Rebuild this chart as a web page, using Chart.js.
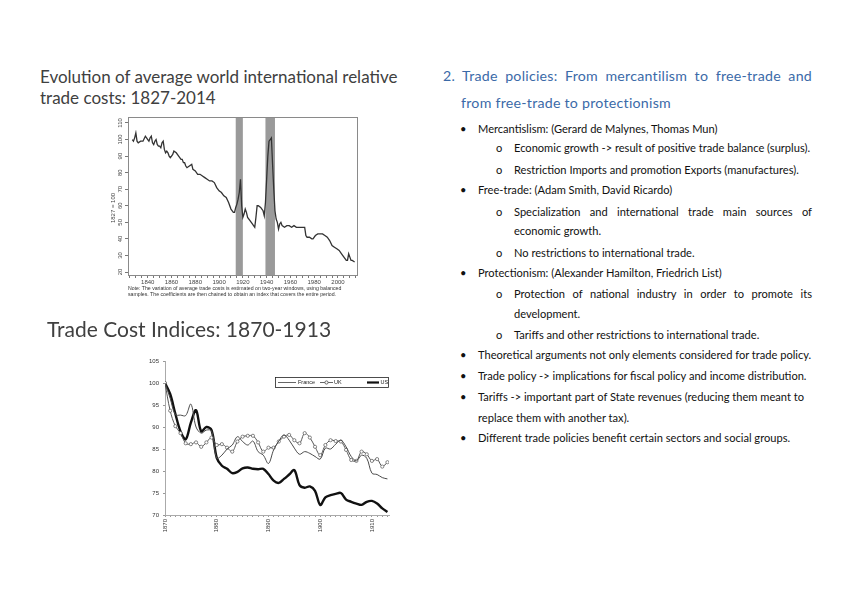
<!DOCTYPE html>
<html><head><meta charset="utf-8">
<script src="https://cdn.jsdelivr.net/npm/chart.js@4.4.1/dist/chart.umd.min.js"></script>
<style>
html,body{margin:0;padding:0;background:#fff;}
body{width:848px;height:599px;overflow:hidden;position:relative;font-family:Lato,"Open Sans",sans-serif;}
.t{position:absolute;white-space:nowrap;line-height:14px;}
.ttl{color:#404040;font-size:17px;line-height:21px;}
.hd{color:#3b6aa8;font-size:14.2px;line-height:20px;letter-spacing:0.25px;}
.b{font-size:11.1px;color:#111;}
.j{text-align:justify;text-align-last:justify;white-space:normal;}
.note{position:absolute;font-family:"Liberation Sans",Arial,sans-serif;font-size:5.2px;line-height:6px;color:#333;white-space:nowrap;}
canvas{position:absolute;}
</style></head>
<body>
<div class="t ttl" style="left:40px;top:66px;">Evolution of average world international relative</div>
<div class="t ttl" style="left:40px;top:87px;">trade costs: 1827-2014</div>
<canvas id="c1" width="270" height="200" style="left:100px;top:105px;width:270px;height:200px;"></canvas>
<div class="note" style="left:128px;top:285px;">Note: The variation of average trade costs is estimated on two-year windows, using balanced<br>samples. The coefficients are then chained to obtain an index that covers the entire period.</div>
<div class="t ttl" style="left:47px;top:316px;font-size:21px;line-height:25px;">Trade Cost Indices: 1870-1913</div>
<canvas id="c2" width="272" height="190" style="left:130px;top:352px;width:272px;height:190px;"></canvas>

<div class="t hd j" style="left:443px;top:66px;width:369px;">2. Trade policies: From mercantilism to free-trade and</div>
<div class="t hd" style="left:461px;top:93px;">from free-trade to protectionism</div>

<div id="txt"></div>

<script>
// ---------- Chart 1 data: average world relative trade costs (1827 = 100) ----------
const topYears = [1827,1828,1829,1830,1831,1832,1834,1836,1838,1839,1840,1841,1842,1843,1844,1845,1846,1847,1848,1849,1850,1851,1852,1853,1854,1855,1856,1857,1858,1859,1860,1861,1862,1864,1866,1868,1869,1870,1871,1872,1873,1875,1877,1878,1880,1882,1884,1886,1888,1890,1892,1894,1896,1898,1900,1902,1904,1906,1908,1910,1912,1913,1914,1915,1916,1917,1918,1919,1920,1921,1922,1923,1924,1926,1928,1929,1930,1931,1932,1933,1935,1936,1937,1938,1939,1940,1941,1942,1943,1944,1945,1946,1947,1948,1949,1950,1951,1952,1953,1955,1957,1959,1961,1963,1965,1967,1969,1971,1972,1973,1974,1976,1978,1979,1981,1983,1985,1987,1989,1991,1993,1995,1997,1999,2001,2003,2005,2007,2008,2009,2010,2011,2012,2014];
const topIndex = [100,99,101,104,99,98,99,99,102,101,100,99,101,102,98,97,99,100,97,96,96,95,98,99,94,92,93,92,90,89,90,91,93,92,90,88,88,86,86,84,83,84,85,82,81,79,79,78,77,76,75,75,74,71,69,68,66,65,62,58,56,56,59,61,64,68,76,60,53,55,58,56,53,51,49,48,47,53,60,60,59,58,57,54,62,76,90,99,100,101,85,70,57,52,50,46,49,50,48,47,48,48,47,48,47,47,47,47,47,42,41,41,40,40,42,43,43,43,42,41,39,36,35,34,33,31,29,27,27,31,29,27,27,26];
const warStart = [1914, 1939];
const warEnd = [1920, 1947];
const topYTicks = [20,30,40,50,60,70,80,90,100,110];
const topXLabels = [1840,1860,1880,1900,1920,1940,1960,1980,2000];
const topXMinor = [1825,1830,1835,1840,1845,1850,1855,1860,1865,1870,1875,1880,1885,1890,1895,1900,1905,1910,1915,1920,1925,1930,1935,1940,1945,1950,1955,1960,1965,1970,1975,1980,1985,1990,1995,2000,2005,2010,2015];
const topYTitle = "1827 = 100";

// ---------- Chart 2 data: trade cost indices 1870-1913 ----------
const tcYears = [1870,1871,1872,1873,1874,1875,1876,1877,1878,1879,1880,1881,1882,1883,1884,1885,1886,1887,1888,1889,1890,1891,1892,1893,1894,1895,1896,1897,1898,1899,1900,1901,1902,1903,1904,1905,1906,1907,1908,1909,1910,1911,1912,1913];
const franceTC = [100,96.5,92.8,92.7,92.6,95.2,90,88.6,89.3,89.1,82.9,83.6,85,85.9,87.8,86.7,85.9,86.8,84.4,83.6,81.7,84.8,86.8,88.2,87,85.2,83.8,84.4,84,83.3,82.7,85.2,85,86.1,87,85.5,83.3,82.3,83.6,82.9,79.5,79.2,78.5,78.2];
const ukTC = [100,93.7,90.2,88.6,86.3,86.1,86.5,85.5,86.5,87.6,85.9,86.1,85.3,84.4,86.7,87.8,88,88,86.5,84.4,85.3,85.3,86.7,87.8,88.2,87,86.3,88.6,87.6,85.5,83.6,85.9,87,86.8,86.7,84.8,82.5,82.3,84.4,83.8,82.3,82.7,81,82];
const usTC = [100,97.5,93,89,87.2,91,93.8,89,90,89.3,83,81.2,80.5,79.5,79.8,80.6,80.8,80.5,80.4,80.5,79.3,77.8,77.3,78.2,79.2,80.2,76.8,76.2,76.5,75.5,72.3,74,74.5,74.8,75,73.5,73,72.6,72.3,73,73.2,72.6,71.5,70.7];
const tcYTicks = [70,75,80,85,90,95,100,105];
const tcSeriesNames = ["France","UK","US"];

// ---------- right-hand text ----------
const lines = [
 {y:129,lvl:1,t:"Mercantislism: (Gerard de Malynes, Thomas Mun)"},
 {y:148,lvl:2,t:"Economic growth -> result of positive trade balance (surplus)."},
 {y:170,lvl:2,t:"Restriction Imports and promotion Exports (manufactures)."},
 {y:190,lvl:1,t:"Free-trade: (Adam Smith, David Ricardo)"},
 {y:212,lvl:2,t:"Specialization and international trade main sources of",j:true},
 {y:231,lvl:3,t:"economic growth."},
 {y:253,lvl:2,t:"No restrictions to international trade."},
 {y:273,lvl:1,t:"Protectionism: (Alexander Hamilton, Friedrich List)"},
 {y:294,lvl:2,t:"Protection of national industry in order to promote its",j:true},
 {y:314,lvl:3,t:"development."},
 {y:335,lvl:2,t:"Tariffs and other restrictions to international trade."},
 {y:355,lvl:1,t:"Theoretical arguments not only elements considered for trade policy."},
 {y:376,lvl:1,t:"Trade policy -> implications for fiscal policy and income distribution."},
 {y:397,lvl:1,t:"Tariffs -> important part of State revenues (reducing them meant to"},
 {y:418,lvl:0,t:"replace them with another tax)."},
 {y:438,lvl:1,t:"Different trade policies benefit certain sectors and social groups."}
];
const txt = document.getElementById('txt');
lines.forEach(l=>{
  const top = l.y - 7;
  if (l.lvl===1){
    txt.insertAdjacentHTML('beforeend',`<div class="t b" style="left:460px;top:${top}px;">•</div>`);
  }
  if (l.lvl===2){
    txt.insertAdjacentHTML('beforeend',`<div class="t b" style="left:496px;top:${top}px;">o</div>`);
  }
  const left = (l.lvl===1||l.lvl===0)?478:514;
  const cls = l.j ? 't b j' : 't b';
  const w = l.j ? `width:${812-left}px;` : '';
  const d = document.createElement('div');
  d.className = cls; d.style.cssText = `left:${left}px;top:${top}px;${w}`;
  d.textContent = l.t;
  txt.appendChild(d);
});

// ---------- Chart 1 ----------
const topDeco = {
  id:'topDeco',
  beforeDatasetsDraw(chart){
    const {ctx, chartArea:a, scales:{x}} = chart;
    ctx.save(); ctx.fillStyle='#9a9a9a';
    warStart.forEach((s,i)=>{
      const x1=x.getPixelForValue(s), x2=x.getPixelForValue(warEnd[i]);
      ctx.fillRect(x1,a.top,x2-x1,a.bottom-a.top);
    });
    ctx.restore();
  },
  afterDraw(chart){
    const {ctx, chartArea:a, scales:{x,y}} = chart;
    ctx.save();
    ctx.strokeStyle='#8a8a8a'; ctx.lineWidth=1;
    ctx.strokeRect(Math.round(a.left)+0.5, Math.round(a.top)+0.5, Math.round(a.right-a.left), Math.round(a.bottom-a.top));
    ctx.fillStyle='#444'; ctx.font='6px "Liberation Sans", Arial, sans-serif';
    ctx.textAlign='center'; ctx.textBaseline='middle';
    topXLabels.forEach(v=>{ ctx.fillText(String(v), x.getPixelForValue(v), a.bottom+7); });
    topYTicks.forEach(v=>{
      ctx.save(); ctx.translate(a.left-8, y.getPixelForValue(v)); ctx.rotate(-Math.PI/2);
      ctx.fillText(String(v),0,0); ctx.restore();
    });
    ctx.save(); ctx.translate(a.left-15,(a.top+a.bottom)/2+12); ctx.rotate(-Math.PI/2);
    ctx.fillText(topYTitle,0,0); ctx.restore();
    ctx.restore();
  }
};
new Chart(document.getElementById('c1'),{
  type:'line',
  data:{datasets:[{data:topYears.map((v,i)=>({x:v,y:topIndex[i]})),borderColor:'#333',borderWidth:1.3,pointRadius:0,tension:0}]},
  options:{responsive:false,animation:false,events:[],
    layout:{padding:{top:12,right:13,left:0,bottom:0}},
    plugins:{legend:{display:false},tooltip:{enabled:false}},
    scales:{
      x:{type:'linear',min:1823.4,max:2016,
        afterBuildTicks:s=>{s.ticks=topXMinor.map(v=>({value:v}));},
        ticks:{display:false},grid:{drawOnChartArea:false,drawTicks:true,tickLength:3,color:'#777'},border:{display:false},
        afterFit:s=>{s.height=30;}},
      y:{type:'linear',min:18.2,max:113.6,
        afterBuildTicks:s=>{s.ticks=topYTicks.map(v=>({value:v}));},
        ticks:{display:false},grid:{drawOnChartArea:false,drawTicks:true,tickLength:3,color:'#777'},border:{display:false},
        afterFit:s=>{s.width=28;}}
    }
  },
  plugins:[topDeco]
});

// ---------- Chart 2 ----------
const legendDeco = {
  id:'legendDeco',
  afterDraw(chart){
    const ctx=chart.ctx;
    ctx.save();
    ctx.strokeStyle='#222'; ctx.lineWidth=0.8;
    ctx.strokeRect(145.5,25.5,113,10);
    const yy=30.5;
    ctx.font='5.5px "Liberation Sans", Arial, sans-serif'; ctx.fillStyle='#222'; ctx.textBaseline='middle'; ctx.textAlign='left';
    // France
    ctx.strokeStyle='#555'; ctx.lineWidth=0.9; ctx.beginPath(); ctx.moveTo(148,yy); ctx.lineTo(166,yy); ctx.stroke();
    ctx.fillText(tcSeriesNames[0],168,yy);
    // UK
    ctx.strokeStyle='#555'; ctx.beginPath(); ctx.moveTo(190,yy); ctx.lineTo(203,yy); ctx.stroke();
    ctx.beginPath(); ctx.arc(196.5,yy,1.6,0,Math.PI*2); ctx.fillStyle='#fff'; ctx.fill(); ctx.stroke();
    ctx.fillStyle='#222'; ctx.fillText(tcSeriesNames[1],204,yy);
    // US
    ctx.strokeStyle='#111'; ctx.lineWidth=2.2; ctx.beginPath(); ctx.moveTo(237,yy); ctx.lineTo(249,yy); ctx.stroke();
    ctx.fillText(tcSeriesNames[2],250.5,yy);
    ctx.restore();
  }
};
new Chart(document.getElementById('c2'),{
  type:'line',
  data:{datasets:[
    {label:tcSeriesNames[0],data:tcYears.map((v,i)=>({x:v,y:franceTC[i]})),borderColor:'#4a4a4a',borderWidth:1,pointRadius:0,tension:0.35},
    {label:tcSeriesNames[1],data:tcYears.map((v,i)=>({x:v,y:ukTC[i]})),borderColor:'#555',borderWidth:1,pointRadius:1.6,pointBorderWidth:0.7,pointBackgroundColor:'#fff',pointBorderColor:'#555',tension:0.35},
    {label:tcSeriesNames[2],data:tcYears.map((v,i)=>({x:v,y:usTC[i]})),borderColor:'#111',borderWidth:2.4,pointRadius:0,tension:0.35}
  ]},
  options:{responsive:false,animation:false,events:[],
    layout:{padding:{top:9,right:13,left:0,bottom:0}},
    plugins:{legend:{display:false},tooltip:{enabled:false}},
    scales:{
      x:{type:'linear',min:1870,max:1913.3,
        afterBuildTicks:s=>{s.ticks=tcYears.map(v=>({value:v}));},
        ticks:{autoSkip:false,minRotation:90,maxRotation:90,padding:2,color:'#333',font:{size:6,family:'"Liberation Sans", Arial, sans-serif'},
          callback:v=>(v%10===0?String(v):'')},
        grid:{drawOnChartArea:false,drawTicks:true,tickLength:2,color:'#999'},border:{display:true,color:'#aaa'},
        afterFit:s=>{s.height=27;}},
      y:{type:'linear',min:70,max:105,
        afterBuildTicks:s=>{s.ticks=tcYTicks.map(v=>({value:v}));},
        ticks:{padding:4,color:'#333',font:{size:6,family:'"Liberation Sans", Arial, sans-serif'}},
        grid:{drawOnChartArea:false,drawTicks:true,tickLength:2,color:'#999'},border:{display:true,color:'#aaa'},
        afterFit:s=>{s.width=35;}}
    }
  },
  plugins:[legendDeco]
});
</script>
</body></html>
